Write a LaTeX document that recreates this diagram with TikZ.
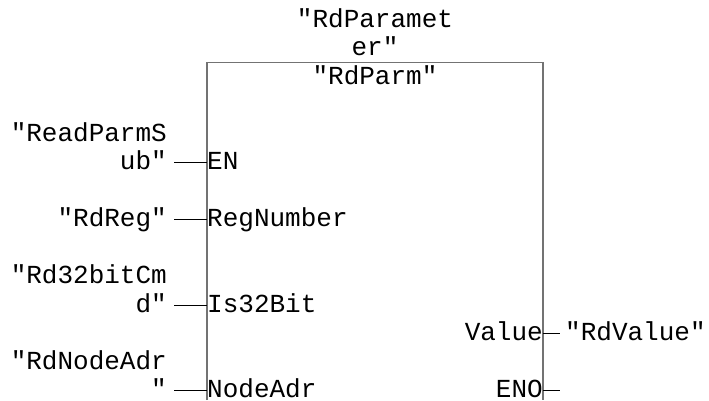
\documentclass[tikz,border=0pt]{standalone}
\usepackage{fontspec}
\setmainfont{Liberation Mono}[Ligatures=TeXOff]
\usetikzlibrary{calc}
\begin{document}
\begin{tikzpicture}[x=1pt,y=-1pt,
  lbl/.style={inner sep=0pt, font=\fontsize{26}{28.5}\selectfont},
  wire/.style={line width=1pt, draw=black},
  frame/.style={line width=1.5pt, draw=black!55}]
\useasboundingbox (0,0) rectangle (709,400);
% block frame (open at the bottom, continues past the picture)
\coordinate (fBL) at (207,400);
\coordinate (fTL) at (207,62.5);
\coordinate (fTR) at (543,62.5);
\coordinate (fBR) at (543,400);
\draw[frame] (fBL) -- (fTL) -- (fTR) -- (fBR);
% titles
\node[lbl, anchor=base] (t1) at (375,27) {"RdParamet};
\node[lbl, anchor=base] (t2) at (375,55.5) {er"};
\node[lbl, anchor=base] (t3) at (375,84) {"RdParm"};
% pins
\node[lbl, anchor=base west] (pEN)  at (207,169.5) {EN};
\node[lbl, anchor=base west] (pReg) at (207,226.5) {RegNumber};
\node[lbl, anchor=base west] (pIs)  at (207,312)   {Is32Bit};
\node[lbl, anchor=base west] (pNode) at (207,397.5) {NodeAdr};
\node[lbl, anchor=base east] (pVal) at (543,340.5) {Value};
\node[lbl, anchor=base east] (pENO) at (543,397.5) {ENO};
% left operands
\node[lbl, anchor=base east] (lENa) at (167,141) {"ReadParmS};
\node[lbl, anchor=base east] (lEN)  at (167,169.5) {ub"};
\node[lbl, anchor=base east] (lReg) at (167,226.5) {"RdReg"};
\node[lbl, anchor=base east] (lIsa) at (167,283.5) {"Rd32bitCm};
\node[lbl, anchor=base east] (lIs)  at (167,312) {d"};
\node[lbl, anchor=base east] (lNodea) at (167,369) {"RdNodeAdr};
\node[lbl, anchor=base east] (lNode) at (167,397.5) {"};
% right operand
\node[lbl, anchor=base west] (rVal) at (565,340.5) {"RdValue"};
\coordinate (enoEnd) at (560,390.5);
% wires
\draw[wire] ($(lEN.base east)+(7,-7)$) -- ($(pEN.base west)+(0,-7)$);
\draw[wire] ($(lReg.base east)+(7,-7)$) -- ($(pReg.base west)+(0,-7)$);
\draw[wire] ($(lIs.base east)+(7,-7)$) -- ($(pIs.base west)+(0,-7)$);
\draw[wire] ($(lNode.base east)+(7,-7)$) -- ($(pNode.base west)+(0,-7)$);
\draw[wire] ($(pVal.base east)+(0,-7)$) -- ($(rVal.base west)+(-5,-7)$);
\draw[wire] ($(pENO.base east)+(0,-7)$) -- (enoEnd);
\end{tikzpicture}
\end{document}
